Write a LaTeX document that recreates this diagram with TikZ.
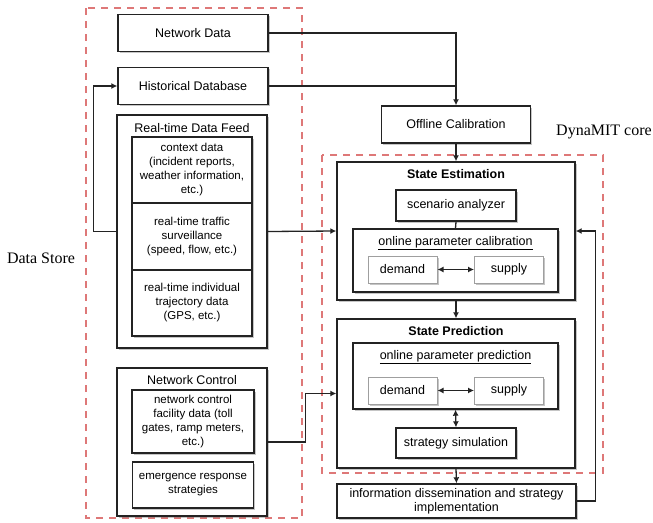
\documentclass[tikz,border=0pt]{standalone}
\usepackage{fontspec}
\setmainfont{Liberation Serif}
\setsansfont{Liberation Sans}
\usepackage{tikz}
\usetikzlibrary{arrows.meta}
\usetikzlibrary{shadows}
\definecolor{dashred}{RGB}{222,120,120}
\definecolor{boxline}{RGB}{35,35,35}
\def\storewd{150pt}
\def\innerwd{120pt}
\def\corewd{238pt}
\def\calibwd{205pt}

\begin{document}
\begin{tikzpicture} [x = 1 pt, y = -1 pt,
    box/.style = {draw = boxline, line width = 1.4pt, fill = white, rectangle,
      inner sep = 0pt, align = center,
      drop shadow = {shadow xshift = 1.6pt, shadow yshift = -1.6pt, opacity = 0.45},
      font = \sffamily\fontsize{12.5}{14}\selectfont},
    smallbox/.style = {box, font = \sffamily\fontsize{11.5}{14}\selectfont},
    pairbox/.style = {box, draw = gray!75, line width = 1pt,
      minimum width = 69pt, minimum height = 27pt},
    heading/.style = {anchor = base, inner sep = 0pt,
      font = \sffamily\fontsize{12.5}{14}\selectfont},
    region/.style = {draw = dashred, line width = 1.8pt, dash pattern = on 7pt off 6pt},
    link/.style = {draw = boxline, line width = 1.3pt},
    arr/.style = {link, -{Latex[length = 6pt, width = 6pt]}},
    dbl/.style = {link, {Latex[length = 6pt, width = 6pt]}-{Latex[length = 6pt, width = 6pt]}}]
    \useasboundingbox (0, 0) rectangle (653, 522);

    \draw[region] (86, 8) rectangle (302, 518);
    \draw[region] (322, 155) rectangle (603, 473);

    \node[font = \fontsize{16}{19}\selectfont] (storelabel) at (41, 258) {Data Store};
    \node[font = \fontsize{16}{19}\selectfont] (corelabel) at (604, 132) {DynaMIT core};

    % data store
    \node[box, minimum width = \storewd, minimum height = 37pt] (netdata)
      at (193, 33) {Network Data};
    \node[box, minimum width = \storewd, minimum height = 37pt] (histdb)
      at (193, 86) {Historical Database};

    \node[box, minimum width = \storewd, minimum height = 233pt] (feed) at (192, 231.5) {};
    \node[heading] (feedtitle) at (192, 132) {Real-time Data Feed};
    \node[smallbox, minimum width = \innerwd, minimum height = 66pt] (context)
      at (192, 170) {context data\\(incident reports,\\weather information,\\etc.)};
    \node[smallbox, minimum width = \innerwd, minimum height = 67pt] (surveil)
      at (192, 236.5) {real-time traffic\\surveillance\\(speed, flow, etc.)};
    \node[smallbox, minimum width = \innerwd, minimum height = 66pt] (traject)
      at (192, 303) {real-time individual\\trajectory data\\(GPS, etc.)};

    \node[box, minimum width = \storewd, minimum height = 148pt] (ctrl) at (192, 442) {};
    \node[heading] (ctrltitle) at (192, 384) {Network Control};
    \node[smallbox, minimum width = 122pt, minimum height = 63pt] (facility)
      at (193, 421.5) {network control\\facility data (toll\\gates, ramp meters,\\etc.)};
    \node[smallbox, minimum width = 121pt, minimum height = 46pt] (emerg)
      at (193, 485) {emergence response\\strategies};

    % dynamit core
    \node[box, minimum width = 149pt, minimum height = 37pt] (offline)
      at (456, 124.5) {Offline Calibration};

    \node[box, minimum width = \corewd, minimum height = 138pt] (est) at (456, 231) {};
    \node[heading] (esttitle) at (456, 178) {\bfseries State Estimation};
    \node[box, minimum width = \innerwd, minimum height = 31pt] (scen)
      at (456, 205.5) {scenario analyzer};
    \node[box, minimum width = \calibwd, minimum height = 63pt] (calib) at (455.5, 260.5) {};
    \node[heading] (calibtitle) at (455.5, 245) {\underline{online parameter calibration}};
    \node[pairbox] (demest) at (402.5, 269.5) {demand};
    \node[pairbox] (supest) at (509, 269.5) {supply};

    \node[box, minimum width = \corewd, minimum height = 149pt] (pred) at (456, 393.5) {};
    \node[heading] (predtitle) at (456, 335) {\bfseries State Prediction};
    \node[box, minimum width = \calibwd, minimum height = 66pt] (ppred) at (455.5, 376) {};
    \node[heading] (ppredtitle) at (455.5, 359) {\underline{online parameter prediction}};
    \node[pairbox] (dempred) at (402.5, 390.5) {demand};
    \node[pairbox] (suppred) at (509, 390.5) {supply};
    \node[box, minimum width = \innerwd, minimum height = 30pt] (strat)
      at (456, 443) {strategy simulation};

    \node[box, minimum width = 239pt, minimum height = 34pt] (info)
      at (456.5, 501) {information dissemination and strategy\\implementation};

    % connectors
    \draw[arr] (netdata.east) -| (offline.north);
    \draw[link] (histdb.east) -- (histdb.east -| offline.north);
    \draw[arr] (offline.south) -- (est.north);
    \draw[arr] (feed.west) -- ++(-23, 0) |- (histdb.west);
    \draw[arr] (feed.east) -- (est.west);
    \draw[link] (scen.south) -- (calib.north);
    \draw[dbl] (demest.east) -- (supest.west);
    \draw[arr] (est.south) -- (pred.north);
    \draw[arr] (ctrl.east) -- ++(38, 0) |- (pred.west);
    \draw[dbl] (dempred.east) -- (suppred.west);
    \draw[dbl] (ppred.south) -- (strat.north);
    \draw[arr] (pred.south) -- (info.north);
    \draw[arr] (info.east) -- ++(19, 0) |- (est.east);
  \end{tikzpicture}
\end{document}
